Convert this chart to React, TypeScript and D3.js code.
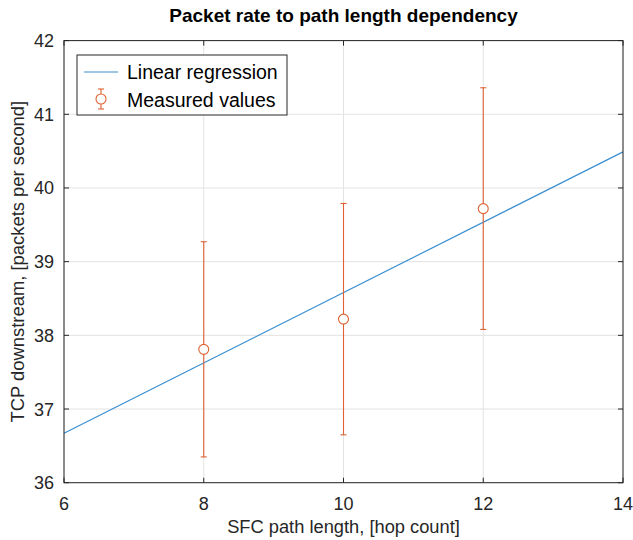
import React from "react";
import * as d3 from "d3";

const xValues = [8, 10, 12];
const yValues = [37.81, 38.22, 39.72];
const errValues = [1.46, 1.57, 1.64];
const regX = [6, 14];
const regY = [36.67, 40.49];
const xTicks = [6, 8, 10, 12, 14];
const yTicks = [36, 37, 38, 39, 40, 41, 42];
const title = "Packet rate to path length dependency";
const xLabel = "SFC path length, [hop count]";
const yLabel = "TCP downstream, [packets per second]";
const legendLabels = ["Linear regression", "Measured values"];

const W = 633, H = 540;
const L = 64, R = 623, T = 40.6, B = 482.7;
const BLUE = "#3a8fd0";
const ORANGE = "#DE6233";
const FONT = "'Liberation Sans', Arial, sans-serif";

export default function App() {
  const x = d3.scaleLinear().domain([6, 14]).range([L, R]);
  const y = d3.scaleLinear().domain([36, 42]).range([B, T]);
  const line = d3.line<number>().x((_, i) => x(regX[i])).y((d) => y(d));
  const cap = 3;
  const tk = 5;
  return (
    <svg width={W} height={H} style={{ position: "absolute", left: 0, top: 0, background: "#fff" }} fontFamily={FONT}>
      <rect x={0} y={0} width={W} height={H} fill="#fff" />
      {xTicks.map((t) => (
        <line key={"gx" + t} x1={x(t)} x2={x(t)} y1={T} y2={B} stroke="#e3e3e3" strokeWidth={1} />
      ))}
      {yTicks.map((t) => (
        <line key={"gy" + t} x1={L} x2={R} y1={y(t)} y2={y(t)} stroke="#e3e3e3" strokeWidth={1} />
      ))}
      <path d={line(regY) || ""} fill="none" stroke={BLUE} strokeWidth={1.2} />
      {xValues.map((v, i) => {
        const cx = x(v);
        const y1 = y(yValues[i] + errValues[i]);
        const y2 = y(yValues[i] - errValues[i]);
        return (
          <g key={"e" + i} stroke={ORANGE} strokeWidth={1.1} fill="none">
            <line x1={cx} x2={cx} y1={y1} y2={y2} />
            <line x1={cx - cap} x2={cx + cap} y1={y1} y2={y1} />
            <line x1={cx - cap} x2={cx + cap} y1={y2} y2={y2} />
            <circle cx={cx} cy={y(yValues[i])} r={5} fill="#fff" />
          </g>
        );
      })}
      <rect x={L} y={T} width={R - L} height={B - T} fill="none" stroke="#262626" strokeWidth={1} />
      {xTicks.map((t) => (
        <g key={"tx" + t} stroke="#262626">
          <line x1={x(t)} x2={x(t)} y1={B} y2={B - tk} />
          <line x1={x(t)} x2={x(t)} y1={T} y2={T + tk} />
        </g>
      ))}
      {yTicks.map((t) => (
        <g key={"ty" + t} stroke="#262626">
          <line x1={L} x2={L + tk} y1={y(t)} y2={y(t)} />
          <line x1={R} x2={R - tk} y1={y(t)} y2={y(t)} />
        </g>
      ))}
      {xTicks.map((t) => (
        <text key={"lx" + t} x={x(t)} y={B + 27} textAnchor="middle" fontSize={18} fill="#262626">
          {t}
        </text>
      ))}
      {yTicks.map((t) => (
        <text key={"ly" + t} x={L - 10} y={y(t) + 6.5} textAnchor="end" fontSize={18} fill="#262626">
          {t}
        </text>
      ))}
      <text x={(L + R) / 2} y={533} textAnchor="middle" fontSize={18.3} fill="#262626">
        {xLabel}
      </text>
      <text transform={`translate(24,${(T + B) / 2}) rotate(-90)`} textAnchor="middle" fontSize={18.4} fill="#262626">
        {yLabel}
      </text>
      <text x={(L + R) / 2} y={22} textAnchor="middle" fontSize={19} fontWeight="bold" fill="#000">
        {title}
      </text>
      <g>
        <rect x={77} y={55} width={210} height={60} fill="#fff" stroke="#262626" strokeWidth={1} />
        <line x1={84} x2={118} y1={72} y2={72} stroke={BLUE} strokeWidth={1.2} />
        <text x={127} y={79} fontSize={19.5} fill="#000">{legendLabels[0]}</text>
        <g stroke={ORANGE} strokeWidth={1.1} fill="none">
          <line x1={101} x2={101} y1={89} y2={109} />
          <line x1={98} x2={104} y1={89} y2={89} />
          <line x1={98} x2={104} y1={109} y2={109} />
          <circle cx={101} cy={99} r={5} fill="#fff" />
        </g>
        <text x={127} y={107} fontSize={19.5} fill="#000">{legendLabels[1]}</text>
      </g>
    </svg>
  );
}
